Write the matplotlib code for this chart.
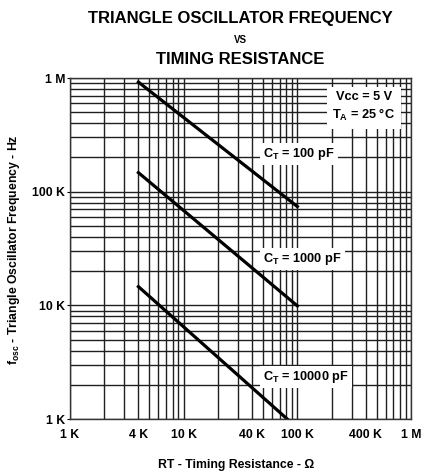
# Triangle oscillator frequency vs timing resistance (log-log datasheet chart)
import matplotlib.pyplot as plt
from matplotlib.ticker import LogLocator, NullFormatter

plt.rcParams['font.family'] = ['Liberation Sans', 'DejaVu Sans']
plt.rcParams['font.weight'] = 'bold'
plt.rcParams['mathtext.fontset'] = 'custom'
plt.rcParams['mathtext.rm'] = 'Liberation Sans:bold'
plt.rcParams['mathtext.it'] = 'Liberation Sans:bold'
plt.rcParams['mathtext.bf'] = 'Liberation Sans:bold'

# Data (endpoints of the straight log-log lines)
rt_100pf = [4e3, 1e5]
f_100pf = [9.2e5, 7.4e4]
rt_1000pf = [4e3, 1e5]
f_1000pf = [1.47e5, 9.9e3]
rt_10000pf = [4e3, 8.15e4]
f_10000pf = [1.46e4, 1e3]

x_ticks = [1e3, 4e3, 1e4, 4e4, 1e5, 4e5, 1e6]
x_labels = ['1 K', '4 K', '10 K', '40 K', '100 K', '400 K', '1 M']
y_ticks = [1e3, 1e4, 1e5, 1e6]
y_labels = ['1 K', '10 K', '100 K', '1 M']

fig = plt.figure(figsize=(4.24, 4.73), dpi=100)
ax = fig.add_axes([70 / 424, 54 / 473, 341 / 424, 341 / 473])

ax.set_xscale('log')
ax.set_yscale('log')
ax.set_xlim(1e3, 1e6)
ax.set_ylim(1e3, 1e6)

# full log grid
for axis in (ax.xaxis, ax.yaxis):
    axis.set_major_locator(LogLocator(base=10, numticks=10))
    axis.set_minor_locator(LogLocator(base=10, subs=range(2, 10), numticks=100))
    axis.set_minor_formatter(NullFormatter())
ax.grid(which='both', color='0.12', lw=1.0)
ax.set_axisbelow(True)

ax.plot(rt_100pf, f_100pf, color='black', lw=2.3)
ax.plot(rt_1000pf, f_1000pf, color='black', lw=2.3)
ax.plot(rt_10000pf, f_10000pf, color='black', lw=2.3)

# x tick labels drawn as annotations under the axis
for xv, lab in zip(x_ticks, x_labels):
    ax.annotate(lab, (xv, 1e3), xytext=(0, -7), textcoords='offset points',
                ha='center', va='top', fontsize=8.8, fontweight='bold')
ax.set_xticks(x_ticks, minor=False)
ax.set_xticklabels([])
ax.set_yticks(y_ticks)
ax.set_yticklabels(y_labels, fontsize=8.8, fontweight='bold')
ax.tick_params(axis='x', which='both', length=0)
ax.tick_params(axis='y', which='major', length=2, pad=1.5, direction='out')
ax.tick_params(axis='y', which='minor', length=0)

for s in ax.spines.values():
    s.set_color('0.2')
    s.set_linewidth(1.0)

box = dict(facecolor='white', edgecolor='none', pad=2)
ax.text(5.0e4, 2.14e5, r'$\mathbf{C_T}$ = 100 pF', fontsize=9.2, ha='left', va='center', bbox=box)
ax.text(5.0e4, 2.55e4, r'$\mathbf{C_T}$ = 1000 pF', fontsize=9.2, ha='left', va='center', bbox=box)
ax.text(5.0e4, 2.34e3, r'$\mathbf{C_T}$ = 10000 pF', fontsize=9.2, ha='left', va='center', bbox=box)
ax.text(3.85e5, 5.55e5, 'Vcc = 5 V\n' + r'$\mathbf{T_A}$ = 25 °C', fontsize=9.2,
        ha='center', va='center', linespacing=1.35,
        bbox=dict(facecolor='white', edgecolor='none', pad=4))

fig.text(240.5 / 424, 1 - 18 / 473, 'TRIANGLE OSCILLATOR FREQUENCY', ha='center', va='center',
         fontsize=12, fontweight='bold')
fig.text(240.5 / 424, 1 - 40 / 473, 'VS', ha='center', va='center', fontsize=7, fontweight='bold')
fig.text(240.5 / 424, 1 - 59 / 473, 'TIMING RESISTANCE', ha='center', va='center',
         fontsize=12, fontweight='bold')

fig.text(236 / 424, 1 - 465 / 473, 'RT - Timing Resistance - Ω', ha='center', va='center',
         fontsize=8.8, fontweight='bold')
fig.text(14 / 424, 1 - 250 / 473, r'$\mathbf{f_{osc}}$ - Triangle Oscillator Frequency - Hz',
         ha='center', va='center', rotation=90, fontsize=8.8, fontweight='bold')

fig.savefig('out.png', dpi=100)
